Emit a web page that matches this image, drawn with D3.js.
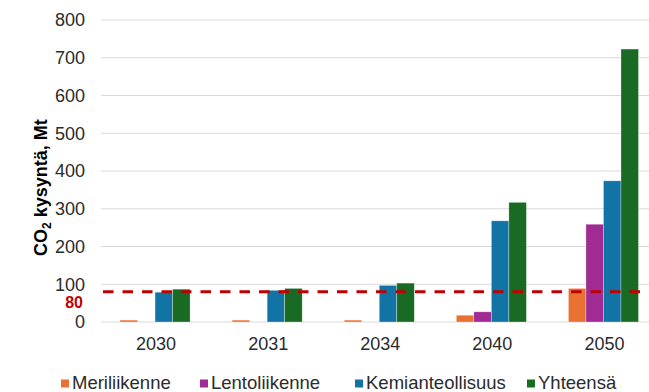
<!DOCTYPE html>
<html>
<head>
<meta charset="utf-8">
<script src="https://cdn.jsdelivr.net/npm/d3@7"></script>
<style>
  html, body { margin: 0; padding: 0; background: #ffffff; }
  svg { display: block; }
  text { font-family: Arial, "Liberation Sans", sans-serif; }
</style>
</head>
<body>
<script>
// CO2 demand (Mt) by sector and year
const categories = ["2030", "2031", "2034", "2040", "2050"];
const meriliikenne = [5, 5, 5, 18, 89];
const lentoliikenne = [0, 0, 0, 27, 259];
const kemianteollisuus = [79, 84, 97, 268, 374];
const yhteensa = [87, 89, 103, 317, 723];
const seriesNames = ["Meriliikenne", "Lentoliikenne", "Kemianteollisuus", "Yhteensä"];
const yTicks = [0, 100, 200, 300, 400, 500, 600, 700, 800];
const targetLevel = 80;

const seriesValues = [meriliikenne, lentoliikenne, kemianteollisuus, yhteensa];
const colors = ["#E97132", "#A02B93", "#1274A4", "#196B24"];

const W = 649, H = 392;
const svg = d3.select("body").append("svg").attr("width", W).attr("height", H);

const plotLeft = 101, plotRight = 649;
const y = d3.scaleLinear().domain([0, 800]).range([322, 20]);
const x = d3.scaleBand().domain(categories).range([99, 659.5])
  .paddingInner(0.375).paddingOuter(0.1875);
const xs = d3.scaleBand().domain(d3.range(seriesNames.length)).range([0, x.bandwidth()]);

// horizontal gridlines
svg.append("g").selectAll("line").data(yTicks).join("line")
  .attr("x1", plotLeft).attr("x2", plotRight)
  .attr("y1", d => y(d)).attr("y2", d => y(d))
  .attr("stroke", "#D9D9D9").attr("stroke-width", 1);

// y tick labels
const yAxis = d3.axisLeft(y).tickValues(yTicks).tickSize(0).tickPadding(0);
const gy = svg.append("g").attr("transform", "translate(85,0)").call(yAxis);
gy.select(".domain").remove();
gy.selectAll("text")
  .attr("font-size", 18).attr("fill", "#2b2b2b")
  .attr("font-family", "Arial, 'Liberation Sans', sans-serif");

// bars
const groups = svg.append("g").selectAll("g").data(categories).join("g")
  .attr("transform", d => `translate(${x(d)},0)`);
groups.selectAll("rect")
  .data((c, i) => seriesValues.map((vals, s) => ({ s, v: vals[i] })))
  .join("rect")
  .attr("x", d => xs(d.s))
  .attr("width", xs.bandwidth())
  .attr("y", d => y(d.v))
  .attr("height", d => y(0) - y(d.v))
  .attr("fill", d => colors[d.s])
  .attr("stroke", "#ffffff").attr("stroke-width", 0.6).attr("stroke-opacity", 0.5);

// x category labels
const xAxis = d3.axisBottom(x).tickSize(0).tickPadding(0);
const gx = svg.append("g").attr("transform", "translate(1,337)").call(xAxis);
gx.select(".domain").remove();
gx.selectAll("text")
  .attr("font-size", 18).attr("fill", "#2b2b2b").attr("dy", "0.71em")
  .attr("font-family", "Arial, 'Liberation Sans', sans-serif");

// target level: dashed red line
svg.append("line")
  .attr("x1", 103).attr("x2", plotRight)
  .attr("y1", y(targetLevel)).attr("y2", y(targetLevel))
  .attr("stroke", "#C00000").attr("stroke-width", 3)
  .attr("stroke-dasharray", "10.5,9");

svg.append("text")
  .attr("x", 83).attr("y", 308)
  .attr("text-anchor", "end")
  .attr("font-size", 16).attr("font-weight", "bold").attr("fill", "#C00000")
  .text(targetLevel);

// y axis title, reading upward from beside the 200 label
const title = svg.append("text")
  .attr("transform", "translate(46.5,256) rotate(-90)")
  .attr("text-anchor", "start")
  .attr("font-size", 18).attr("font-weight", "bold").attr("fill", "#000000");
title.append("tspan").text("CO");
title.append("tspan").text("2").attr("font-size", 12).attr("dy", 4);
title.append("tspan").text(" kysyntä, Mt").attr("dy", -4);

// legend
const legendX = [61, 200, 355, 527];
const legend = svg.append("g").selectAll("g").data(seriesNames).join("g")
  .attr("transform", (d, i) => `translate(${legendX[i]},0)`);
legend.append("rect")
  .attr("x", 0).attr("y", 379.5).attr("width", 8).attr("height", 8)
  .attr("fill", (d, i) => colors[i]);
legend.append("text")
  .attr("x", 11).attr("y", 388.7)
  .attr("font-size", 18.5).attr("fill", "#2b2b2b")
  .text(d => d);
</script>
</body>
</html>
